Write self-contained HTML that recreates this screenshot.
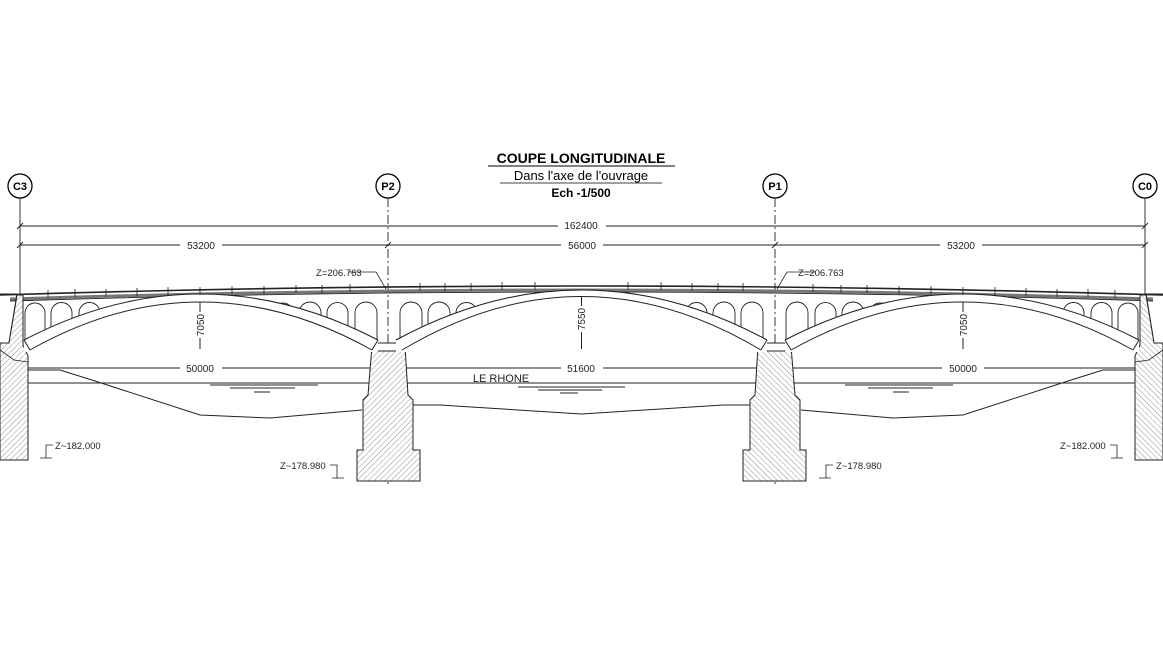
<!DOCTYPE html>
<html><head><meta charset="utf-8"><style>
html,body{margin:0;padding:0;background:#fff;}
svg{display:block;font-family:"Liberation Sans",sans-serif;}
</style></head><body>
<svg width="1163" height="647" viewBox="0 0 1163 647" xmlns="http://www.w3.org/2000/svg">
<defs>
<pattern id="h" patternUnits="userSpaceOnUse" width="4" height="4" patternTransform="rotate(45)">
<rect width="4" height="4" fill="#fff"/><line x1="0" y1="0" x2="0" y2="4" stroke="#777" stroke-width="0.8"/>
</pattern>
<g id="half" stroke="#222" fill="none" stroke-width="1">
 <path d="M0,294 L17,294 L9,343 L0,343" />
 <path d="M17,295 L23,295 L23,345 L28,356 L28,460 L0,460 L0,343 L9,343 Z" fill="url(#h)"/>
 <path d="M0,350 L14,360 L28,362" stroke-width="0.8"/>
 <path d="M372,346 L405,346 L408,395 L413,400 L413,450 L420,450 L420,481 L357,481 L357,450 L363,450 L363,400 L368,395 Z" fill="url(#h)"/>
 <rect x="368" y="343" width="40" height="8" fill="#fff"/>
 <g stroke-width="0.9">
  <path d="M25,345 V313 a10,10 0 0 1 20,0 V345"/>
  <path d="M51,345 V313 a10.5,10.5 0 0 1 21,0 V345"/>
  <path d="M79,345 V313 a10.5,10.5 0 0 1 21,0 V345"/>
  <path d="M105,330 V312"/>
  <path d="M273,345 V313 a10,10 0 0 1 20,0 V345"/>
  <path d="M299,345 V313 a11,11 0 0 1 22,0 V345"/>
  <path d="M327,345 V313 a10.5,10.5 0 0 1 21,0 V345"/>
  <path d="M355,345 V313 a11,11 0 0 1 22,0 V345"/>
  <path d="M400,345 V313 a11,11 0 0 1 22,0 V345"/>
  <path d="M428,345 V313 a11,11 0 0 1 22,0 V345"/>
  <path d="M456,345 V313 a10.5,10.5 0 0 1 21,0 V345"/>
  <path d="M483,345 V313 a10,10 0 0 1 20,0 V345"/>
 </g>
 <path d="M24,340 Q200,248 378,340 L378,352 L24,352 Z" fill="#fff" stroke="none"/>
 <path d="M396,340 Q581.5,240 767,340 L767,352 L396,352 Z" fill="#fff" stroke="none"/>
 <path d="M24,340 Q200,248 378,340"/>
 <path d="M30,350 Q200,254 372,350"/>
 <path d="M24,340 L30,350 M378,340 L372,350"/>
 <path d="M396,340 Q581.5,240 767,340"/>
 <path d="M402,350 Q581.5,243 761,350"/>
 <path d="M396,340 L402,350"/>
 <path d="M28,370 L60,370 L95,381 L200,415 L270,418 L362,410"/>
 <path d="M413,405 L440,405 L581.5,414"/>
 <path d="M210,385 H318 M230,388 H295 M254,392 H270"/>
 <path d="M200,302 V349"/>
 <g stroke-width="0.8">
  <path d="M48,290 V298 M75,289 V297 M106,289 V297 M137,288 V296 M168,287 V296 M200,287 V295 M232,286 V294 M264,286 V294 M296,285 V293 M322,285 V293 M350,284 V292 M420,283 V291 M445,283 V291 M471,283 V291 M502,282 V290 M535,282 V290"/>
 </g>
 <path d="M348,272 L376,272 L386,289" stroke-width="0.8"/>
 <path d="M53,445 H46 V458 M40,458 H52" stroke-width="0.8"/>
 <path d="M330,465 H337 V478 M332,478 H344" stroke-width="0.8"/>
</g>
</defs>

<text x="581" y="163" text-anchor="middle" font-size="14" font-weight="bold">COUPE LONGITUDINALE</text>
<line x1="488" y1="166" x2="675" y2="166" stroke="#000" stroke-width="1"/>
<text x="581" y="180" text-anchor="middle" font-size="13">Dans l'axe de l'ouvrage</text>
<line x1="500" y1="183" x2="662" y2="183" stroke="#000" stroke-width="0.8"/>
<text x="581" y="197" text-anchor="middle" font-size="12" font-weight="bold">Ech -1/500</text>

<g stroke="#000" fill="#fff" stroke-width="1.3">
<circle cx="20" cy="186" r="12"/><circle cx="388" cy="186" r="12"/><circle cx="775" cy="186" r="12"/><circle cx="1145" cy="186" r="12"/>
</g>
<g font-size="11" font-weight="bold" text-anchor="middle">
<text x="20" y="190">C3</text><text x="388" y="190">P2</text><text x="775" y="190">P1</text><text x="1145" y="190">C0</text>
</g>
<g stroke="#222" stroke-width="0.9" fill="none">
<path d="M20,198 V295 M1145,198 V295"/>
<path d="M388,198 V485" stroke-dasharray="9,3,2,3"/>
<path d="M775,198 V485" stroke-dasharray="9,3,2,3"/>
<path d="M20,295 V330 M1145,295 V330" stroke-dasharray="9,3,2,3"/>
<path d="M20,226 H1145 M20,245 H1145"/>
<path d="M17,229 L23,223 M1142,229 L1148,223 M17,248 L23,242 M385,248 L391,242 M772,248 L778,242 M1142,248 L1148,242"/>
<path d="M28,349 H1136" stroke-dasharray="3,2" stroke-width="0.7"/>
<path d="M28,368 H1136 M28,383 H1136"/>
<path d="M0,295 Q581.5,277 1163,295" stroke-width="1.6"/>
<path d="M10,299 Q581.5,281 1153,299" stroke="#777" stroke-width="3"/>
<path d="M10,301 Q581.5,283 1153,301"/>
</g>

<use href="#half"/>
<use href="#half" transform="translate(1163,0) scale(-1,1)"/>

<path d="M581.5,296 V349 M518,387 H625 M538,390 H602 M560,393 H578" stroke="#222" stroke-width="1" fill="none"/>

<g font-size="10" text-anchor="middle" fill="#222">
<rect x="558" y="220" width="48" height="11" fill="#fff"/><text x="581" y="229">162400</text>
<rect x="180" y="239" width="42" height="11" fill="#fff"/><text x="201" y="249">53200</text>
<rect x="561" y="239" width="42" height="11" fill="#fff"/><text x="582" y="249">56000</text>
<rect x="940" y="239" width="42" height="11" fill="#fff"/><text x="961" y="249">53200</text>
<rect x="180" y="362" width="42" height="11" fill="#fff"/><text x="200" y="372">50000</text>
<rect x="561" y="362" width="42" height="11" fill="#fff"/><text x="581" y="372">51600</text>
<rect x="942" y="362" width="42" height="11" fill="#fff"/><text x="963" y="372">50000</text>
<rect x="195" y="312" width="11" height="26" fill="#fff"/><text transform="translate(204,325) rotate(-90)">7050</text>
<rect x="576" y="306" width="11" height="26" fill="#fff"/><text transform="translate(585,319) rotate(-90)">7550</text>
<rect x="958" y="312" width="11" height="26" fill="#fff"/><text transform="translate(967,325) rotate(-90)">7050</text>
<text x="501" y="382" font-size="11">LE RHONE</text>
</g>
<g font-size="9.5" fill="#222">
<text x="316" y="276">Z=206.763</text>
<text x="798" y="276">Z=206.763</text>
<text x="55" y="449">Z~182.000</text>
<text x="1060" y="449">Z~182.000</text>
<text x="280" y="469">Z~178.980</text>
<text x="836" y="469">Z~178.980</text>
</g>
</svg>
</body></html>
